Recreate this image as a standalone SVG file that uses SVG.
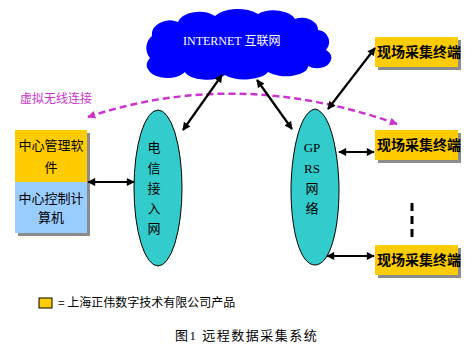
<svg xmlns="http://www.w3.org/2000/svg" width="474" height="354" viewBox="0 0 474 354">
<style>
.cjk{font-family:"Noto Sans CJK SC","Liberation Sans",sans-serif;}
.ser{font-family:"Liberation Serif","Noto Sans CJK SC",serif;}
.t13{font-size:13px;fill:#000;}
.term{font-family:"Noto Sans CJK SC",sans-serif;font-size:14px;font-weight:bold;fill:#000;}
.shadow{fill:#8c8c8c;}
.orange{fill:#FFCC00;}
.ell{fill:#33CCCC;stroke:#000;stroke-width:1;}
.arr{stroke:#000;stroke-width:2.2;fill:none;marker-start:url(#ah);marker-end:url(#ah);}
</style>
<defs>
<marker id="ah" viewBox="0 0 10 10" refX="9" refY="5" markerWidth="9" markerHeight="8" markerUnits="userSpaceOnUse" orient="auto-start-reverse">
<path d="M0,0 L10,5 L0,10 z" fill="#000"/>
</marker>
<marker id="mh" viewBox="0 0 10 10" refX="9" refY="5" markerWidth="10" markerHeight="8" markerUnits="userSpaceOnUse" orient="auto-start-reverse">
<path d="M0,0 L10,5 L0,10 z" fill="#CC33CC"/>
</marker>
</defs>
<rect width="474" height="354" fill="#fff"/>

<g id="internet">
<path d="M150,58 A12,14 0 0,1 152,36 A18,14 0 0,1 178,22 A22,14 0 0,1 215,16 A25,12 0 0,1 258,14 A22,12 0 0,1 295,19 A16,12 0 0,1 318,30 A12,12 0 0,1 326,50 A14,10 0 0,1 308,66 A22,10 0 0,1 268,72 A24,10 0 0,1 225,75 A22,10 0 0,1 185,72 A16,10 0 0,1 150,58 Z" fill="#0000FF"/>
<text x="183" y="45" font-size="12" fill="#fff" class="ser">INTERNET <tspan class="cjk">互联网</tspan></text>
</g>

<g id="virtual-label">
<text x="20" y="103" font-size="12" fill="#CC33CC" class="cjk">虚拟无线连接</text>
</g>

<g id="center">
<rect x="18" y="133" width="72" height="103" class="shadow"/>
<rect x="15" y="130" width="72" height="52" class="orange"/>
<rect x="15" y="182" width="72" height="51" fill="#99CCFF"/>
<text x="51" y="150" text-anchor="middle" class="cjk t13">中心管理软</text>
<text x="51" y="172" text-anchor="middle" class="cjk t13">件</text>
<text x="51" y="203" text-anchor="middle" class="cjk t13">中心控制计</text>
<text x="51" y="222" text-anchor="middle" class="cjk t13">算机</text>
</g>

<g id="telecom">
<ellipse cx="158" cy="188" rx="24" ry="78" class="ell"/>
<g class="cjk t13" text-anchor="middle">
<text x="154" y="152">电</text>
<text x="154" y="173">信</text>
<text x="154" y="193">接</text>
<text x="154" y="213">入</text>
<text x="154" y="233">网</text>
</g>
</g>

<g id="gprs">
<path d="M315,109 C 332,112 339,160 339,190 C 339,230 330,265 315,265 C 300,265 291,230 291,190 C 291,160 298,112 315,109 Z" class="ell"/>
<g class="t13" text-anchor="middle">
<text x="312" y="152" class="ser">GP</text>
<text x="312" y="173" class="ser">RS</text>
<text x="312" y="193" class="cjk">网</text>
<text x="312" y="213" class="cjk">络</text>
</g>
</g>

<g id="terminal1">
<rect x="378" y="40" width="83" height="30" class="shadow"/>
<rect x="375" y="37" width="83" height="30" class="orange"/>
<text x="377" y="57" class="term">现场采集终端</text>
</g>
<g id="terminal2">
<rect x="378" y="133" width="83" height="30" class="shadow"/>
<rect x="375" y="130" width="83" height="30" class="orange"/>
<text x="377" y="150" class="term">现场采集终端</text>
</g>
<g id="terminal3">
<rect x="378" y="248" width="83" height="30" class="shadow"/>
<rect x="375" y="245" width="83" height="30" class="orange"/>
<text x="377" y="265" class="term">现场采集终端</text>
</g>

<g id="connectors">
<path d="M397,124 Q237,67 88,117" fill="none" stroke="#CC33CC" stroke-width="2.5" stroke-dasharray="7 4" marker-start="url(#mh)" marker-end="url(#mh)"/>
<line x1="88" y1="182" x2="134" y2="182" class="arr"/>
<line x1="183" y1="130" x2="222" y2="75" class="arr"/>
<line x1="257" y1="80" x2="292" y2="129" class="arr"/>
<line x1="328" y1="109" x2="375" y2="48" class="arr"/>
<line x1="339" y1="152" x2="374" y2="152" class="arr"/>
<line x1="327" y1="256" x2="374" y2="256" class="arr"/>
<line x1="412" y1="203" x2="412" y2="240" stroke="#000" stroke-width="3" stroke-dasharray="8 5"/>
</g>

<g id="legend">
<rect x="39" y="298" width="13" height="10" class="orange" stroke="#000" stroke-width="1"/>
<text x="58" y="307" font-size="12" fill="#000" class="cjk">= 上海正伟数字技术有限公司产品</text>
</g>

<g id="caption">
<text x="175" y="340" font-size="13" letter-spacing="1.5" fill="#000" class="ser">图1 远程数据采集系统</text>
</g>
</svg>
